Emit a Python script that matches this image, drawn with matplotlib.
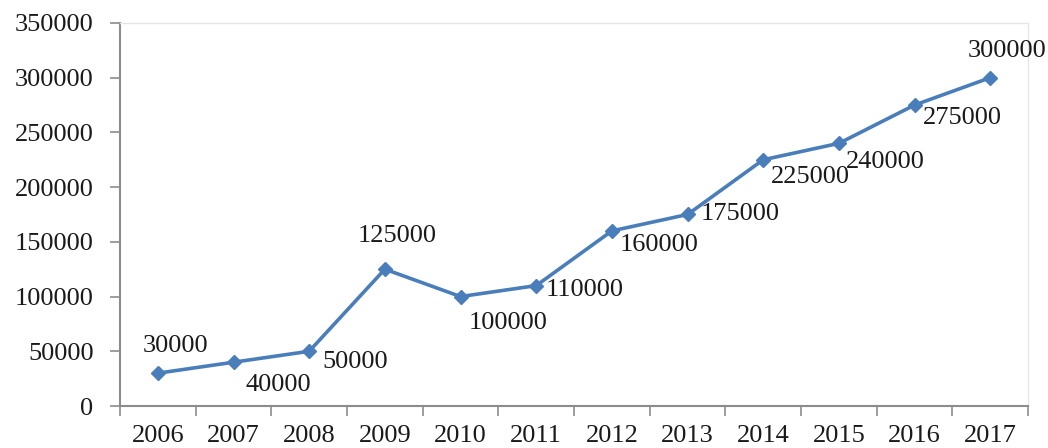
import matplotlib.pyplot as plt
import numpy as np

plt.rcParams['font.family'] = ['Liberation Serif', 'DejaVu Serif']

years = ['2006', '2007', '2008', '2009', '2010', '2011',
         '2012', '2013', '2014', '2015', '2016', '2017']
values = [30000, 40000, 50000, 125000, 100000, 110000,
          160000, 175000, 225000, 240000, 275000, 300000]
# label offsets in pixels (dx, dy) from each point
label_offsets = [(18, 27), (45, -23), (46, -11), (12, 33), (48, -26), (48, -4),
                 (47, -14), (53, 0), (47, -17), (46, -19), (48, -13), (17, 27)]

fig = plt.figure(figsize=(10.48, 4.48), dpi=100)
ax = fig.add_axes([0.1145, 0.09375, 0.8665, 0.855])

x = np.arange(len(years))
ax.plot(x, values, color='#4a7ebb', linewidth=2.6, marker='D', markersize=7.5)

for xi, v, (dx, dy) in zip(x, values, label_offsets):
    ax.annotate(str(v), (xi, v), xytext=(dx, dy), textcoords='offset pixels',
                ha='center', va='center', fontsize=19, color='#1a1a1a')

ax.set_xlim(-0.5, len(years) - 0.5)
ax.set_ylim(0, 350000)
ax.set_yticks(np.arange(0, 350001, 50000))
ax.set_xticks(x)
ax.set_xticklabels(years)
ax.set_xticks(np.arange(-0.5, len(years), 1), minor=True)

ax.tick_params(axis='x', which='major', length=0, pad=14, labelsize=19, labelcolor='#1a1a1a')
ax.tick_params(axis='x', which='minor', length=7, width=1.2, color='#8c8c8c')
ax.tick_params(axis='y', length=7, width=1.2, color='#8c8c8c', pad=12,
               labelsize=19, labelcolor='#1a1a1a')

for s in ['left', 'bottom']:
    ax.spines[s].set_color('#8c8c8c')
    ax.spines[s].set_linewidth(1.5)
for s in ['top', 'right']:
    ax.spines[s].set_color('#e6e6e6')
    ax.spines[s].set_linewidth(1.0)

plt.savefig('out.png', dpi=100)
